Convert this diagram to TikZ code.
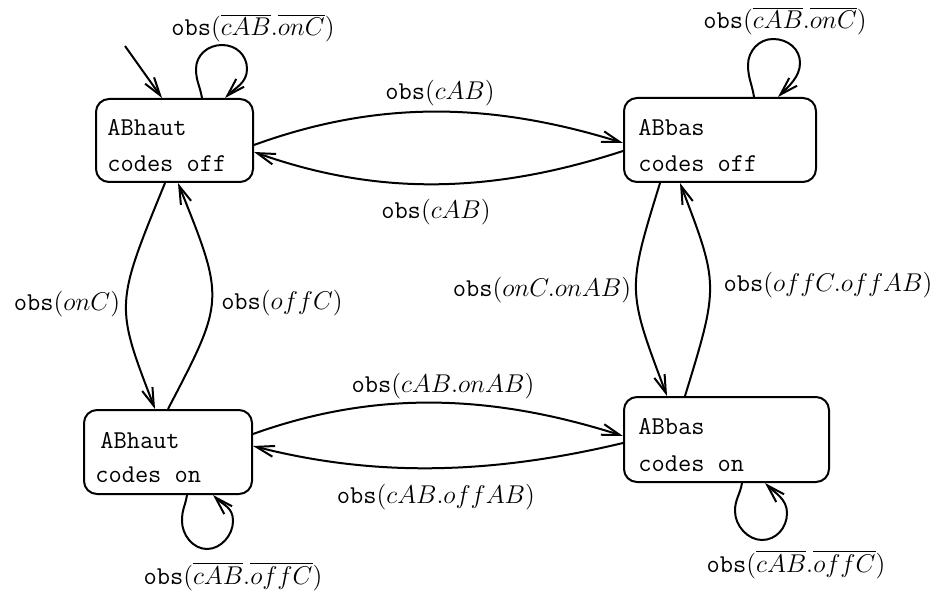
\documentclass[tikz,border=0pt]{standalone}
\usepackage{fix-cm}
\usetikzlibrary{calc,arrows.meta}
\newcommand\cmttfont{\fontencoding{OT1}\fontfamily{cmtt}\selectfont}
\newcommand\obsword{{\cmttfont obs}}
\begin{document}
\begin{tikzpicture}[x=0.5pt,y=-0.5pt,
  box/.style={draw,line width=1pt,rounded corners=6.5pt,inner sep=0pt},
  txt/.style={inner sep=0pt,font=\fontsize{12.85}{15}\cmttfont},
  lbl/.style={inner sep=0pt,font=\fontsize{12.85}{15}\selectfont},
  edge/.style={line width=1pt,-{Straight Barb[length=9pt,width=5.5pt,line width=1pt]}}]
\useasboundingbox (0,0) rectangle (940,592);
% states
\node[box,minimum width=78.5pt,minimum height=41.5pt] (A) at (174.5,140.5) {};
\node[box,minimum width=96pt,minimum height=42pt] (B) at (720,140) {};
\node[box,minimum width=84pt,minimum height=42pt] (C) at (168,452) {};
\node[box,minimum width=102.5pt,minimum height=42.5pt] (D) at (726.5,439.5) {};
% state texts
\node[txt,anchor=base west] (A1) at (107,136) {ABhaut};
\node[txt,anchor=base west] (A2) at (107,172) {codes off};
\node[txt,anchor=base west] (B1) at (638,136) {ABbas};
\node[txt,anchor=base west] (B2) at (638,172) {codes off};
\node[txt,anchor=base west] (C1) at (100,448) {ABhaut};
\node[txt,anchor=base west] (C2) at (95,482) {codes on};
\node[txt,anchor=base west] (D1) at (638,434) {ABbas};
\node[txt,anchor=base west] (D2) at (638,471) {codes on};
% initial arrow
\coordinate (init) at (125,46);
\draw[edge] (init) -- ($(A.north)+(-12.5,0)$);
% self loops
\draw[edge,shift={(A.north)}] (27.5,0) .. controls +(-2,-12) and +(0,12) .. (21.5,-29)
  .. controls +(0,-14) and +(-14,0) .. (47.5,-53)
  .. controls +(14,0) and +(0,-14) .. (72.5,-29)
  .. controls +(0,14) and +(10,-10) .. (50.5,0);
\draw[edge,shift={(B.north)}] (34,0) .. controls +(-2,-13) and +(0,13) .. (28,-32)
  .. controls +(0,-14) and +(-14,0) .. (53,-58)
  .. controls +(15,0) and +(0,-14) .. (80,-34)
  .. controls +(0,14) and +(10,-10) .. (58,0);
\draw[edge,shift={(C.south)}] (19,0) .. controls +(-2,12) and +(0,-12) .. (14,26)
  .. controls +(0,14) and +(-14,0) .. (39,54)
  .. controls +(14,0) and +(0,14) .. (65,26)
  .. controls +(0,-14) and +(10,10) .. (45,0);
\draw[edge,shift={(D.south)}] (15.5,0) .. controls +(-2,12) and +(0,-12) .. (8.5,28)
  .. controls +(0,15) and +(-14,0) .. (35.5,57)
  .. controls +(14,0) and +(0,15) .. (60.5,30)
  .. controls +(0,-14) and +(10,10) .. (38.5,0);
% horizontal transitions
\draw[edge] ($(A.east)+(0,4.5)$) .. controls (375,101) and (488,101) .. ($(B.west)+(0,3)$);
\draw[edge] ($(B.west)+(0,11)$) .. controls (488,195) and (375,195) .. ($(A.east)+(0,11.5)$);
\draw[edge] ($(C.east)+(0,-18)$) .. controls (370,392) and (485,392) .. ($(D.west)+(0,-3.5)$);
\draw[edge] ($(D.west)+(0,3.5)$) .. controls (485,476) and (370,476) .. ($(C.east)+(0,-6)$);
% vertical transitions
\draw[edge] ($(A.south)+(-9.5,0)$) .. controls (115,305) .. ($(C.north)+(-13,0)$);
\draw[edge] (C.north) .. controls (225,300) .. ($(A.south)+(3.5,0)$);
\draw[edge] ($(B.south)+(-60,0)$) .. controls (627,290) .. ($(D.north)+(-59.5,0)$);
\draw[edge] ($(D.north)+(-41.5,0)$) .. controls (719,285) .. ($(B.south)+(-40,0)$);
% labels
\node[lbl,anchor=base] (l1) at (253,36) {\obsword$(\overline{cAB}.\overline{onC})$};
\node[lbl,anchor=base] (l2) at (785,29) {\obsword$(\overline{cAB}.\overline{onC})$};
\node[lbl,anchor=base] (l3) at (440,100) {\obsword$(cAB)$};
\node[lbl,anchor=base] (l4) at (436,219) {\obsword$(cAB)$};
\node[lbl,anchor=base] (l5) at (67,311) {\obsword$(onC)$};
\node[lbl,anchor=base] (l6) at (282,310) {\obsword$(offC)$};
\node[lbl,anchor=base] (l7) at (542,297) {\obsword$(onC.onAB)$};
\node[lbl,anchor=base] (l8) at (828,292) {\obsword$(offC.offAB)$};
\node[lbl,anchor=base] (l9) at (443,393) {\obsword$(cAB.onAB)$};
\node[lbl,anchor=base] (l10) at (436,503) {\obsword$(cAB.offAB)$};
\node[lbl,anchor=base] (l11) at (233,584) {\obsword$(\overline{cAB}.\overline{offC})$};
\node[lbl,anchor=base] (l12) at (796,572) {\obsword$(\overline{cAB}.\overline{offC})$};
\end{tikzpicture}
\end{document}
